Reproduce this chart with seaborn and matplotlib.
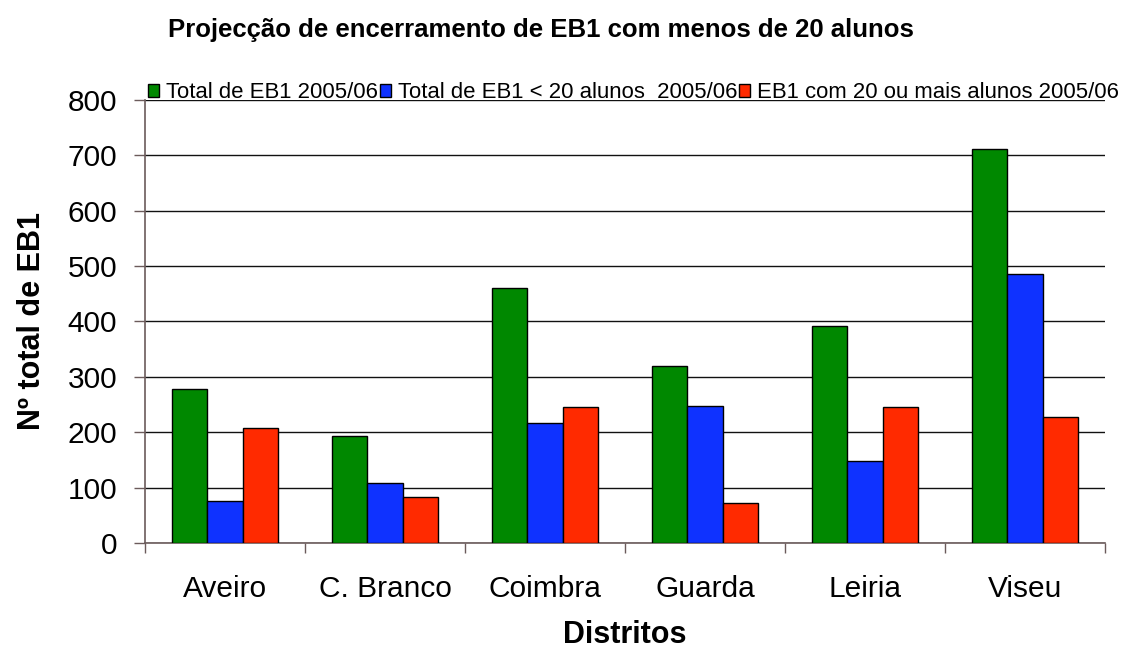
import pandas as pd
import seaborn as sns
import matplotlib.pyplot as plt
from matplotlib.ticker import FixedLocator


# Valores
distritos = ['Aveiro', 'C. Branco', 'Coimbra', 'Guarda', 'Leiria', 'Viseu']
total_eb1 = [279, 193, 461, 320, 392, 712]
menos_20 = [76, 108, 217, 248, 148, 485]
mais_20 = [207, 83, 245, 73, 245, 227]

series = ['Total de EB1 2005/06',
          'Total de EB1 < 20 alunos  2005/06',
          'EB1 com 20 ou mais alunos 2005/06']
cores = ['#008800', '#0f32ff', '#ff2a00']

# formato longo para o seaborn
df = pd.DataFrame({
    'Distrito': distritos * 3,
    'Valor': total_eb1 + menos_20 + mais_20,
    'Serie': [series[0]] * 6 + [series[1]] * 6 + [series[2]] * 6,
})

sns.set_style('white')
plt.rcParams['font.family'] = ['Liberation Sans', 'DejaVu Sans']
plt.rcParams['text.color'] = 'black'
plt.rcParams['axes.labelcolor'] = 'black'
plt.rcParams['xtick.labelcolor'] = 'black'
plt.rcParams['ytick.labelcolor'] = 'black'

fig = plt.figure(figsize=(11.22, 6.48), dpi=100)
ax = fig.add_axes([145 / 1122, 1 - 543 / 648, 960 / 1122, 443 / 648])

sns.barplot(data=df, x='Distrito', y='Valor', hue='Serie', palette=cores,
            saturation=1, width=0.66, edgecolor='black', linewidth=1,
            ax=ax, zorder=3)

ax.set_ylim(0, 800)
ax.set_xlim(-0.5, 5.5)
ax.set_yticks(range(0, 801, 100))
ax.yaxis.grid(True, color='#111111', linewidth=1)
ax.set_axisbelow(True)

for s in ['top', 'right']:
    ax.spines[s].set_visible(False)
for s in ['left', 'bottom']:
    ax.spines[s].set_color('#6b5b5b')
    ax.spines[s].set_linewidth(1.2)

# traços entre categorias
ax.xaxis.set_minor_locator(FixedLocator([i - 0.5 for i in range(7)]))
ax.tick_params(axis='x', which='major', length=0, pad=23, labelsize=21.5)
ax.tick_params(axis='x', which='minor', length=7, width=1, color='#6b5b5b',
               direction='out', bottom=True)
ax.tick_params(axis='y', which='major', length=8, width=1, color='#6b5b5b',
               direction='out', left=True, pad=12, labelsize=21.5)

ax.set_xlabel('Distritos', fontsize=22, fontweight='bold')
ax.xaxis.set_label_coords(0.5, -0.174)
ax.set_ylabel('Nº total de EB1', fontsize=22, fontweight='bold')
ax.yaxis.set_label_coords(-0.102, 0.5)

fig.text(541 / 1122, 1 - 30 / 648, 'Projecção de encerramento de EB1 com menos de 20 alunos',
         ha='center', va='center', fontsize=18.5, fontweight='bold')

ax.legend(loc='center left', bbox_to_anchor=(148 / 1122, 1 - 93 / 648),
          bbox_transform=fig.transFigure, ncol=3, frameon=False,
          fontsize=15.9, handlelength=0.5, handleheight=0.5,
          handletextpad=0.3, columnspacing=0.1, borderpad=0, borderaxespad=0)

plt.savefig('out.png', dpi=100)
